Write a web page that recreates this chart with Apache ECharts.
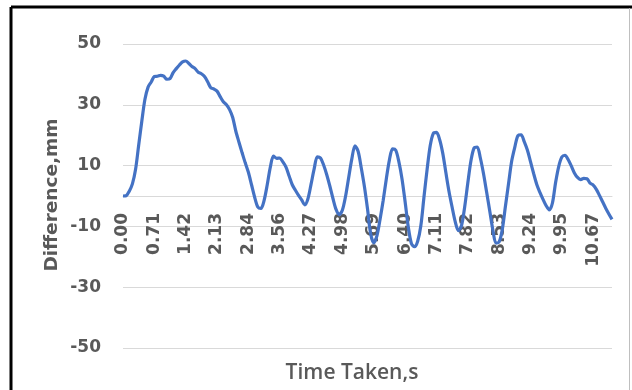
<!DOCTYPE html>
<html>
<head>
<meta charset="utf-8">
<script src="https://cdn.jsdelivr.net/npm/echarts@6/dist/echarts.min.js"></script>
<style>html,body{margin:0;padding:0;background:#fff;}#c{width:632px;height:390px;}</style>
</head>
<body>
<div id="c"></div>
<script>
// Tick labels shown on the category axis (every 10th sample)
const tickLabels = ['0.00','0.71','1.42','2.13','2.84','3.56','4.27','4.98','5.69','6.40','7.11','7.82','8.53','9.24','9.95','10.67'];
// Difference (mm), one sample every ~0.0711 s
const difference = [
 0, 0.1, 1.6, 4.0, 8.7, 16.7, 24.6, 31.8, 35.8, 37.5,
 39.3, 39.4, 39.7, 39.4, 38.4, 38.6, 40.6, 41.9, 43.1, 44.1,
 44.4, 43.6, 42.6, 41.9, 40.7, 40.2, 39.3, 37.6, 35.6, 35.2,
 34.5, 32.7, 31.0, 30.0, 28.4, 25.8, 21.3, 17.7, 14.2, 10.9,
 7.8, 3.7, -0.4, -3.6, -4.1, -1.5, 3.6, 9.5, 13.1, 12.4,
 12.5, 11.2, 9.5, 6.6, 3.7, 1.9, 0.2, -1.3, -2.9, -0.9,
 3.9, 9.0, 12.9, 12.5, 10.2, 7.0, 3.2, -0.9, -4.5, -6.1,
 -4.6, -0.1, 6.1, 12.2, 16.5, 14.7, 9.3, 3.2, -4.2, -12.4,
 -15.4, -13.1, -7.7, -1.5, 5.6, 11.9, 15.5, 15.1, 11.3, 5.7,
 -1.9, -10.1, -15.6, -16.7, -14.9, -9.9, -0.5, 8.6, 16.5, 20.6,
 20.9, 18.6, 14.1, 7.7, 1.5, -3.7, -8.5, -11.4, -9.7, -3.6,
 4.3, 11.6, 15.8, 16.1, 12.5, 7.4, 1.3, -4.9, -11.2, -15.5,
 -15.1, -11.0, -3.4, 4.1, 11.5, 16.1, 19.9, 20.1, 17.9, 15.1,
 11.3, 7.4, 3.8, 1.2, -1.1, -3.2, -4.6, -2.3, 4.4, 9.7,
 12.8, 13.4, 12.0, 9.9, 7.6, 6.1, 5.4, 5.8, 5.7, 4.2,
 3.6, 2.2, 0.2, -1.9, -4.0, -5.9, -7.7
];
const timeStep = 0.0711;
const categories = difference.map((_, i) => (i % 10 === 0 ? tickLabels[i / 10] : (i * timeStep).toFixed(2)));
const yTitle = 'Difference,mm';
const xTitle = 'Time Taken,s';

const chart = echarts.init(document.getElementById('c'), null, {renderer: 'canvas'});
chart.setOption({
  animation: false,
  backgroundColor: '#ffffff',
  grid: {left: 123, right: 20, top: 44, bottom: 42, containLabel: false, outerBoundsMode: 'none'},
  xAxis: {
    type: 'category',
    data: categories,
    boundaryGap: false,
    position: 'bottom',
    offset: -152,
    z: 1,
    axisLine: {onZero: false, lineStyle: {color: '#d9d9d9', width: 1}},
    axisTick: {show: false},
    axisLabel: {
      interval: 9, rotate: 90, margin: 17,
      color: '#595959', fontFamily: 'DejaVu Sans', fontWeight: 'bold', fontSize: 17
    },
    splitLine: {show: false}
  },
  yAxis: {
    type: 'value',
    min: -50, max: 50, interval: 20,
    axisLine: {show: false},
    axisTick: {show: false},
    axisLabel: {margin: 22, color: '#595959', fontFamily: 'DejaVu Sans', fontWeight: 'bold', fontSize: 17},
    splitLine: {lineStyle: {color: '#d9d9d9', width: 1}}
  },
  series: [{
    type: 'line',
    data: difference,
    z: 10,
    showSymbol: false,
    smooth: 0.3,
    lineStyle: {color: '#4472C4', width: 3.2},
    itemStyle: {color: '#4472C4'}
  }],
  graphic: [
    {type: 'line', shape: {x1: 11, y1: 7, x2: 632, y2: 7}, style: {stroke: '#000', lineWidth: 3}},
    {type: 'line', shape: {x1: 11, y1: 7, x2: 11, y2: 390}, style: {stroke: '#000', lineWidth: 3}},
    {type: 'line', shape: {x1: 629.5, y1: 8, x2: 629.5, y2: 390}, style: {stroke: '#bfbfbf', lineWidth: 1}},
    {type: 'text', x: 52, y: 195, rotation: Math.PI / 2,
      style: {text: yTitle, fill: '#595959', font: 'bold 18.5px "DejaVu Sans"', align: 'center', verticalAlign: 'middle'}},
    {type: 'text', x: 352, y: 373,
      style: {text: xTitle, fill: '#595959', font: '600 21px "Open Sans"', align: 'center', verticalAlign: 'middle'}}
  ]
});
</script>
</body>
</html>
